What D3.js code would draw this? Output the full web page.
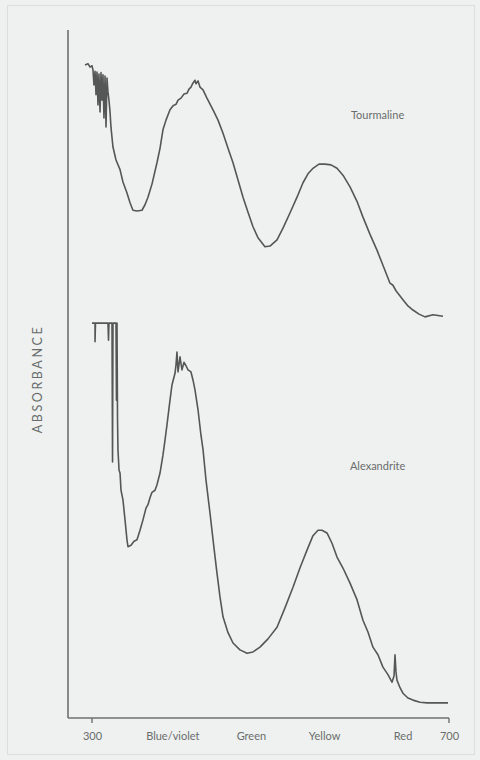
<!DOCTYPE html>
<html>
<head>
<meta charset="utf-8">
<script src="https://cdn.jsdelivr.net/npm/d3@7"></script>
<style>
  body { margin: 0; background: #eef1f0; }
  text { font-family: Lato, "Open Sans", sans-serif; fill: #6a6d6c; }
</style>
</head>
<body>
<div id="chart-area"></div>
<script>

// Spectra, [wavelength nm, absorbance (arbitrary units)]
var tourmaline = [
  [292.2, 94.9], [295.5, 95.1], [297.8, 94.6], [300.0, 94.8], [301.1, 94.2], [302.2, 92.0],
  [303.4, 94.0], [304.5, 90.6], [305.6, 93.9], [306.7, 89.1], [307.8, 93.6], [309.0, 88.1],
  [310.1, 93.8], [311.2, 89.8], [312.3, 93.5], [313.4, 87.2], [314.6, 93.3], [315.7, 85.9],
  [316.8, 93.0], [317.9, 91.0], [319.0, 89.8], [320.2, 88.1], [321.3, 85.8], [323.5, 83.0],
  [326.9, 81.1], [331.4, 79.7], [334.7, 77.9], [339.2, 76.3], [342.6, 74.9], [345.9, 73.8],
  [350.4, 73.7], [356.0, 73.8], [359.4, 74.6], [362.7, 75.7], [367.2, 77.6], [372.8, 80.7],
  [376.2, 82.8], [379.5, 85.5], [382.9, 86.9], [387.4, 88.4], [390.8, 89.0], [394.1, 89.2],
  [396.4, 89.8], [399.7, 90.1], [403.1, 90.7], [406.4, 90.8], [408.7, 91.4], [410.9, 91.7],
  [413.2, 92.3], [415.4, 92.7], [416.5, 92.2], [418.8, 92.6], [421.0, 91.7], [424.4, 91.3],
  [428.8, 90.1], [435.6, 88.4], [441.2, 86.9], [446.8, 85.0], [452.4, 82.8], [458.0, 80.7],
  [463.6, 78.2], [469.2, 75.7], [474.8, 73.5], [480.4, 71.4], [486.0, 69.8], [493.8, 68.5],
  [499.4, 68.6], [507.3, 69.5], [514.0, 71.2], [521.8, 73.4], [529.7, 75.7], [536.4, 77.8],
  [542.0, 79.1], [547.6, 79.9], [554.3, 80.5], [561.1, 80.5], [567.8, 80.4], [574.5, 79.9],
  [581.2, 78.9], [589.1, 77.2], [596.9, 75.1], [603.6, 72.8], [611.5, 70.3], [619.3, 68.0],
  [627.2, 65.4], [633.9, 63.2], [637.2, 62.9], [640.6, 62.1], [648.4, 60.8], [654.0, 59.9],
  [659.6, 59.3], [666.4, 58.7], [673.1, 58.3], [682.1, 58.6], [693.3, 58.4]
];

var alexandrite = [
  [300.0, 57.4], [303.4, 57.4], [303.4, 54.7], [303.9, 57.4], [317.9, 57.4], [318.5, 54.9],
  [319.0, 57.4], [322.4, 57.4], [323.0, 37.2], [323.5, 57.4], [326.9, 57.4], [327.4, 46.2],
  [328.0, 57.4], [328.6, 43.3], [329.1, 39.0], [330.3, 36.0], [331.4, 35.6], [332.5, 33.1],
  [334.7, 31.7], [337.0, 28.8], [339.2, 25.9], [340.3, 24.9], [343.7, 25.1], [347.1, 25.7],
  [350.4, 25.9], [353.8, 27.3], [357.1, 28.8], [360.5, 30.5], [362.7, 31.0], [365.0, 32.0],
  [367.2, 32.8], [370.6, 33.1], [372.8, 33.9], [376.2, 35.6], [379.5, 38.2], [381.8, 40.4],
  [384.0, 42.6], [387.4, 46.2], [389.6, 48.4], [393.0, 50.1], [394.1, 51.3], [395.2, 53.2],
  [396.4, 50.3], [398.6, 52.5], [400.8, 50.6], [403.1, 51.7], [405.3, 51.2], [407.6, 50.6],
  [410.9, 50.3], [413.2, 49.1], [415.4, 47.7], [418.8, 44.8], [422.1, 41.1], [424.4, 39.0],
  [427.7, 34.6], [432.2, 29.8], [436.7, 24.7], [440.0, 21.1], [443.4, 17.6], [446.8, 14.7],
  [452.4, 12.4], [458.0, 10.9], [465.8, 9.9], [473.7, 9.4], [480.4, 9.6], [488.2, 10.3],
  [497.2, 11.5], [507.3, 13.2], [516.2, 16.0], [525.2, 19.0], [533.0, 21.8], [540.9, 24.4],
  [547.6, 26.5], [553.2, 27.3], [557.7, 27.3], [563.3, 26.9], [568.9, 25.4], [574.5, 23.4],
  [581.2, 21.8], [589.1, 19.6], [596.9, 17.2], [603.6, 14.2], [609.2, 12.5], [614.8, 10.3],
  [620.4, 9.2], [626.0, 7.4], [631.6, 6.3], [636.1, 5.2], [638.4, 6.1], [639.5, 9.2],
  [640.6, 6.7], [641.7, 5.5], [645.1, 4.4], [648.4, 3.6], [654.0, 2.9], [659.6, 2.6],
  [667.5, 2.3], [675.3, 2.2], [684.3, 2.2], [698.9, 2.2]
];

// x axis ticks (wavelength nm) and their labels
var tickValues = [300, 390, 478, 560, 648, 700];
var tickLabels = ["300", "Blue/violet", "Green", "Yellow", "Red", "700"];

// series names and where they are written
var seriesNames = ["Tourmaline", "Alexandrite"];
var seriesLabelAt = [[620, 87], [620, 36]];


// SVG drawing area
var width = 480,
    height = 760;

var svg = d3.select("#chart-area").append("svg")
    .attr("width", width)
    .attr("height", height);

// faint frame of the scanned page
svg.append("rect")
    .attr("x", 7.5)
    .attr("y", 5.5)
    .attr("width", 467)
    .attr("height", 749)
    .attr("fill", "none")
    .attr("stroke", "#dadedd");


// Scales
var x = d3.scaleLinear()
    .domain([300, 700])
    .range([92, 449]);

var y = d3.scaleLinear()
    .domain([0, 100])
    .range([718, 30]);


// Axes
svg.append("line")
    .attr("x1", 68).attr("x2", 68)
    .attr("y1", y(100)).attr("y2", y(0))
    .attr("stroke", "#6d706f")
    .attr("stroke-width", 1.6);

var xAxis = d3.axisBottom(x)
    .tickValues(tickValues)
    .tickSize(0)
    .tickPadding(14)
    .tickFormat(function(d, i) { return tickLabels[i]; });

var gx = svg.append("g")
    .attr("class", "axis x-axis")
    .attr("transform", "translate(0," + y(0) + ")")
    .call(xAxis);

gx.select(".domain").remove();
gx.selectAll("text")
    .attr("font-size", 11)
    .attr("font-family", "Lato, sans-serif")
    .attr("fill", "#6a6d6c");

gx.append("line")
    .attr("x1", 68).attr("x2", x(700))
    .attr("stroke", "#6d706f")
    .attr("stroke-width", 1.6);

// small end ticks at 300 and 700
gx.selectAll(".end-tick")
    .data([300, 700])
    .enter().append("line")
    .attr("class", "end-tick")
    .attr("x1", function(d) { return x(d); })
    .attr("x2", function(d) { return x(d); })
    .attr("y1", 0).attr("y2", 5)
    .attr("stroke", "#6d706f")
    .attr("stroke-width", 1.4);

// y axis title
svg.append("text")
    .attr("transform", "translate(42,379) rotate(-90)")
    .attr("text-anchor", "middle")
    .attr("font-size", 12.5)
    .attr("letter-spacing", 2.6)
    .attr("fill", "#6a6d6c")
    .text("ABSORBANCE");


// Spectra
var line = d3.line()
    .x(function(d) { return x(d[0]); })
    .y(function(d) { return y(d[1]); });

svg.selectAll(".spectrum")
    .data([tourmaline, alexandrite])
    .enter().append("path")
    .attr("class", "spectrum")
    .attr("d", line)
    .attr("fill", "none")
    .attr("stroke", "#545756")
    .attr("stroke-width", 1.6)
    .attr("stroke-linejoin", "round");

svg.selectAll(".series-label")
    .data(seriesNames)
    .enter().append("text")
    .attr("class", "series-label")
    .attr("x", function(d, i) { return x(seriesLabelAt[i][0]); })
    .attr("y", function(d, i) { return y(seriesLabelAt[i][1]); })
    .attr("text-anchor", "middle")
    .attr("font-size", 11)
    .attr("fill", "#6a6d6c")
    .text(function(d) { return d; });

</script>
</body>
</html>
